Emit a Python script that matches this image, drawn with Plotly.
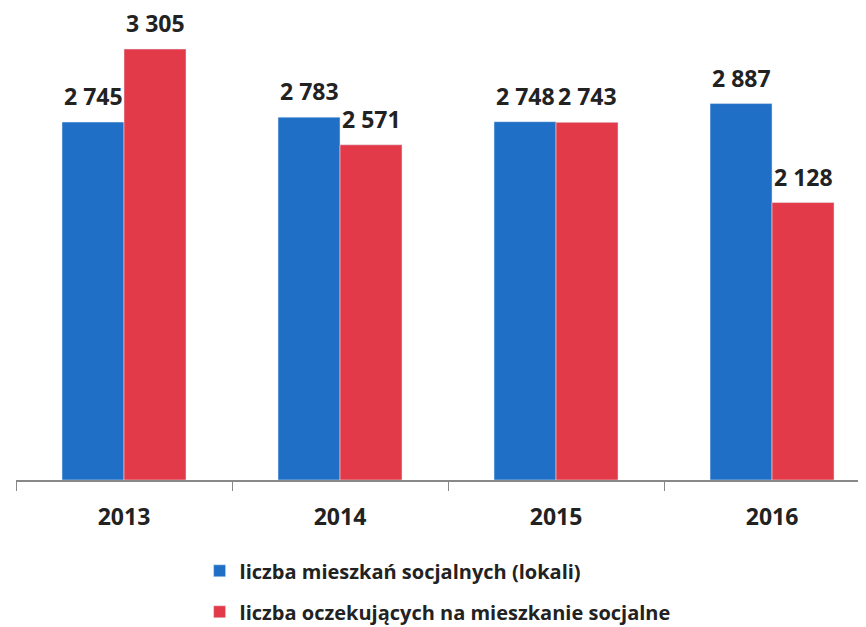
import plotly.graph_objects as go

years = ["2013", "2014", "2015", "2016"]
lokale = [2745, 2783, 2748, 2887]
oczekujacy = [3305, 2571, 2743, 2128]
names = ["liczba mieszkań socjalnych (lokali)", "liczba oczekujących na mieszkanie socjalne"]
colors = ["#1F6FC6", "#E23A48"]

def fmt(v):
    return f"{v:,}".replace(",", " ")

font = "Open Sans"
fig = go.Figure()
for i, (vals, name) in enumerate([(lokale, names[0]), (oczekujacy, names[1])]):
    fig.add_trace(go.Bar(x=years, y=vals, name=name, marker_color=colors[i],
                         legendgroup=f"g{i}", offsetgroup=str(i)))
    for j, v in enumerate(vals):
        fig.add_annotation(x=j, y=v, xref="x", yref="y", text=fmt(v), showarrow=False,
                           xshift=-31 if i == 0 else 31, yshift=8,
                           yanchor="bottom", xanchor="center",
                           font=dict(size=23, family=font, weight="bold", color="#222222"))

fig.update_layout(
    width=866, height=627,
    margin=dict(l=8, r=0, t=3, b=155),
    paper_bgcolor="white", plot_bgcolor="white",
    barmode="group", bargap=0.426, bargroupgap=0,
    font=dict(family=font, color="#222222"),
    showlegend=True,
    legend=dict(x=0.214, xanchor="left", y=-0.152, yanchor="top",
                orientation="v", font=dict(size=20, family=font, weight="bold", color="#222222"),
                itemwidth=30, tracegroupgap=12),
    xaxis=dict(type="category", range=[-0.5, 3.472], showline=True, linecolor="#888888", linewidth=1.5,
               ticks="outside", tickson="boundaries", ticklen=9, tickcolor="#888888",
               ticklabelstandoff=16,
               tickfont=dict(size=23, family=font, weight="bold", color="#222222"),
               showgrid=False),
    yaxis=dict(range=[0, 3597], visible=False, showgrid=False),
)
fig.write_html("out.html")
